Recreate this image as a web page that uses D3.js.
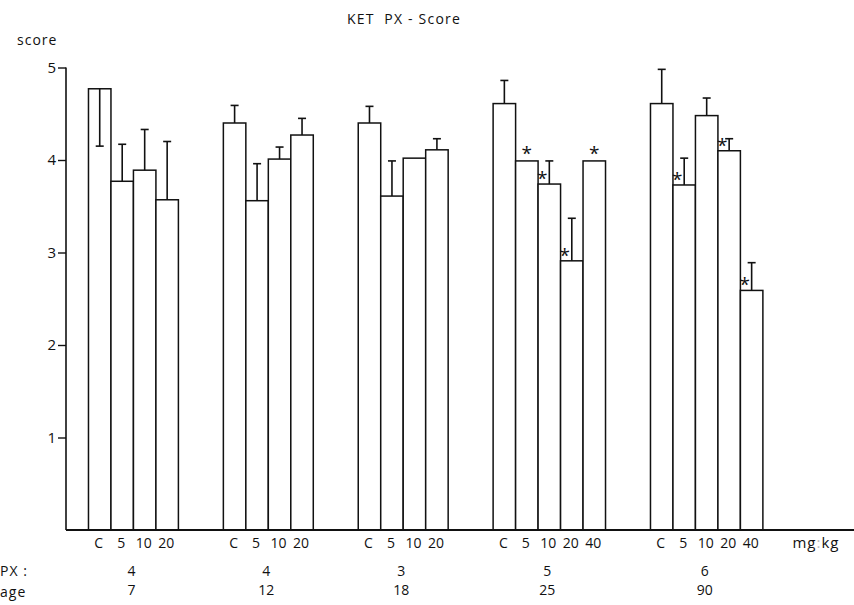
<!DOCTYPE html>
<html>
<head>
<meta charset="utf-8">
<script src="https://cdn.jsdelivr.net/npm/d3@7"></script>
<style>
  html, body { margin: 0; padding: 0; background: #fff; }
  svg { display: block; }
  text { font-family: "Open Sans", "DejaVu Sans", sans-serif; fill: #111; }
</style>
</head>
<body>
<svg id="chart" width="854" height="605"></svg>
<script>
// ---- data ----
const pxValues   = ["4", "4", "3", "5", "6"];
const ageValues  = ["7", "12", "18", "25", "90"];
const doseLabels = [
  ["C", "5", "10", "20"],
  ["C", "5", "10", "20"],
  ["C", "5", "10", "20"],
  ["C", "5", "10", "20", "40"],
  ["C", "5", "10", "20", "40"]
];
const meanScores = [
  [4.77, 3.77, 3.89, 3.57],
  [4.40, 3.56, 4.01, 4.27],
  [4.40, 3.61, 4.02, 4.11],
  [4.61, 3.99, 3.74, 2.91, 3.99],
  [4.61, 3.73, 4.48, 4.10, 2.59]
];
// error bar length (negative = drawn downward inside the bar)
const errScores = [
  [-0.62, 0.40, 0.44, 0.63],
  [0.19, 0.40, 0.13, 0.18],
  [0.18, 0.38, 0.00, 0.12],
  [0.25, 0.00, 0.25, 0.46, 0.00],
  [0.37, 0.29, 0.19, 0.13, 0.30]
];
const significant = [
  [0, 0, 0, 0],
  [0, 0, 0, 0],
  [0, 0, 0, 0],
  [0, 1, 1, 1, 1],
  [0, 1, 0, 1, 1]
];
const yTicks = [1, 2, 3, 4, 5];

// ---- layout ----
const svg = d3.select("#chart");
const slotW = 22.48;
const x0 = 66;
const x = d3.scaleLinear().domain([0, 1]).range([x0, x0 + slotW]);
const y = d3.scaleLinear().domain([0, 5]).range([530, 67.5]);

// build bar records with slot positions
const bars = [];
const groups = [];
let slot = 1;
meanScores.forEach((g, gi) => {
  const start = slot;
  g.forEach((v, bi) => {
    bars.push({ g: gi, b: bi, slot: slot, value: v, err: errScores[gi][bi],
                star: significant[gi][bi], dose: doseLabels[gi][bi] });
    slot++;
  });
  groups.push({ start: start, end: slot, px: pxValues[gi], age: ageValues[gi] });
  slot += 2;
});

// title
svg.append("text").attr("x", 404).attr("y", 24).attr("text-anchor", "middle")
  .style("font-size", "14px").style("letter-spacing", "1.2px")
  .attr("xml:space", "preserve")
  .text("KET  PX - Score");
svg.append("text").attr("x", 17).attr("y", 45)
  .style("font-size", "14px").style("letter-spacing", "1px").text("score");

// y axis
const yAxis = d3.axisLeft(y).tickValues(yTicks).tickSize(8).tickSizeOuter(0).tickPadding(2)
  .tickFormat(d3.format("d"));
const ga = svg.append("g").attr("transform", `translate(${x0},0)`).call(yAxis);
ga.select(".domain").attr("stroke", "#111").attr("stroke-width", 1.6).attr("d", `M0,${y(0)}V${y(5)}`);
ga.selectAll(".tick line").attr("stroke", "#111").attr("stroke-width", 1.4);
ga.selectAll(".tick text").style("font-size", "15px").style("font-family", "\"Open Sans\", sans-serif").attr("fill", "#111");

// bars
const gb = svg.append("g");
gb.selectAll("rect.bar").data(bars).join("rect")
  .attr("class", "bar")
  .attr("x", d => x(d.slot))
  .attr("y", d => y(d.value))
  .attr("width", slotW)
  .attr("height", d => y(0) - y(d.value))
  .attr("fill", "#fff")
  .attr("stroke", "#111")
  .attr("stroke-width", 1.5);

// error bars
const withErr = bars.filter(d => d.err !== 0);
const cx = d => x(d.slot + 0.5);
gb.selectAll("line.err").data(withErr).join("line")
  .attr("class", "err")
  .attr("x1", cx).attr("x2", cx)
  .attr("y1", d => y(d.value)).attr("y2", d => y(d.value + d.err))
  .attr("stroke", "#111").attr("stroke-width", 1.6);
gb.selectAll("line.cap").data(withErr).join("line")
  .attr("class", "cap")
  .attr("x1", d => cx(d) - 4).attr("x2", d => cx(d) + 4)
  .attr("y1", d => y(d.value + d.err)).attr("y2", d => y(d.value + d.err))
  .attr("stroke", "#111").attr("stroke-width", 1.6);

// significance stars
gb.selectAll("text.star").data(bars.filter(d => d.star)).join("text")
  .attr("class", "star")
  .attr("x", d => d.err !== 0 ? cx(d) - 7 : cx(d))
  .attr("y", d => y(d.value) + (d.err !== 0 ? 1 : -1))
  .attr("text-anchor", "middle")
  .style("font-size", "19px")
  .text("*");

// baseline
svg.append("line").attr("x1", x0).attr("x2", 854).attr("y1", y(0)).attr("y2", y(0))
  .attr("stroke", "#111").attr("stroke-width", 1.8);

// dose labels
svg.selectAll("text.dose").data(bars).join("text")
  .attr("class", "dose")
  .attr("x", d => cx(d) - 1)
  .attr("y", 548)
  .attr("text-anchor", "middle")
  .style("font-size", "14px")
  .text(d => d.dose);
svg.append("text").attr("x", 816).attr("y", 548).attr("text-anchor", "middle")
  .style("font-size", "15px").style("letter-spacing", "1px")
  .html('mg<tspan fill="#bbb">:</tspan>kg');

// PX and age rows
svg.append("text").attr("x", 0).attr("y", 576).style("font-size", "14px").style("letter-spacing", "1px").text("PX :");
svg.append("text").attr("x", 0).attr("y", 597).style("font-size", "14px").style("letter-spacing", "1px").text("age");
svg.selectAll("text.px").data(groups).join("text")
  .attr("class", "px")
  .attr("x", d => x((d.start + d.end) / 2) - 2)
  .attr("y", 576).attr("text-anchor", "middle")
  .style("font-size", "14px").text(d => d.px);
svg.selectAll("text.age").data(groups).join("text")
  .attr("class", "age")
  .attr("x", d => x((d.start + d.end) / 2) - 2)
  .attr("y", 595).attr("text-anchor", "middle")
  .style("font-size", "14px").text(d => d.age);
</script>
</body>
</html>
